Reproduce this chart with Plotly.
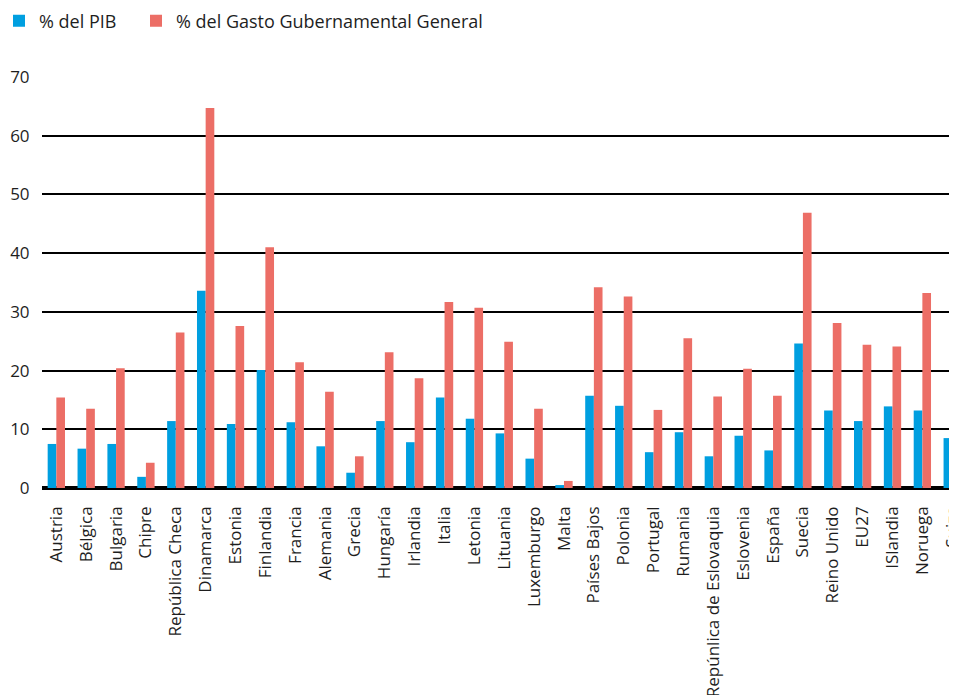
import plotly.graph_objects as go

paises = [
    "Austria", "Bélgica", "Bulgaria", "Chipre", "República Checa", "Dinamarca",
    "Estonia", "Finlandia", "Francia", "Alemania", "Grecia", "Hungaría",
    "Irlandia", "Italia", "Letonia", "Lituania", "Luxemburgo", "Malta",
    "Países Bajos", "Polonia", "Portugal", "Rumania", "Repúnlica de Eslovaquia",
    "Eslovenia", "España", "Suecia", "Reino Unido", "EU27", "ISlandia",
    "Noruega", "Suiza",
]

pct_pib = [
    7.5, 6.7, 7.5, 1.9, 11.4, 33.6, 10.9, 20.1, 11.2, 7.1, 2.6, 11.4,
    7.8, 15.4, 11.8, 9.3, 5.0, 0.5, 15.7, 14.0, 6.1, 9.5, 5.4,
    8.9, 6.4, 24.6, 13.2, 11.4, 13.9, 13.2, 8.5,
]

pct_gasto = [
    15.4, 13.5, 20.4, 4.3, 26.5, 64.7, 27.6, 41.0, 21.4, 16.4, 5.4, 23.1,
    18.7, 31.7, 30.7, 24.9, 13.5, 1.2, 34.2, 32.6, 13.3, 25.5, 15.6,
    20.3, 15.7, 46.9, 28.1, 24.4, 24.1, 33.2, 24.2,
]

AZUL = "#009fe0"
ROJO = "#ec6e66"
FUENTE = "Open Sans"
TEXTO = "#1e1e1e"

# the page body has an 8px margin, so the figure is a bit smaller
W, H = 949, 687
ML, MT, MB = 34, 69, 207
PW, PH = W - ML, H - MT - MB

fig = go.Figure()
fig.add_trace(go.Bar(x=paises, y=pct_pib, name="% del PIB",
                     marker_color=AZUL, marker_line_width=0, legend="legend"))
fig.add_trace(go.Bar(x=paises, y=pct_gasto, name="% del Gasto Gubernamental General",
                     marker_color=ROJO, marker_line_width=0, legend="legend2"))

leyenda = dict(
    orientation="h",
    xref="container", yref="paper",
    y=1 + (MT + 5.5) / PH, xanchor="left", yanchor="top",
    font=dict(family=FUENTE, size=18, color=TEXTO),
    itemclick=False,
    bgcolor="rgba(0,0,0,0)",
)

fig.update_layout(
    template="none",
    width=W,
    height=H,
    margin=dict(l=ML, r=0, t=MT, b=MB, pad=0, autoexpand=False),
    showlegend=True,
    barmode="group",
    bargap=0.42,
    bargroupgap=0,
    paper_bgcolor="white",
    plot_bgcolor="white",
    font=dict(family=FUENTE, size=17, color=TEXTO),
    legend=dict(leyenda, x=0, indentation=-9),
    legend2=dict(leyenda, x=128 / W),
    xaxis=dict(
        range=[-0.48, 30.16],
        tickangle=-90,
        showgrid=False,
        showline=False,
        zeroline=False,
        ticks="",
        ticklabelstandoff=14,
        automargin=False,
        tickfont=dict(family=FUENTE, size=17, color=TEXTO),
    ),
    yaxis=dict(
        range=[0, 70],
        dtick=10,
        showgrid=True,
        gridcolor="#000000",
        gridwidth=1.5,
        zeroline=True,
        zerolinecolor="#000000",
        zerolinewidth=3.5,
        showline=False,
        ticks="outside",
        ticklen=8,
        tickcolor="rgba(0,0,0,0)",
        automargin=False,
        tickfont=dict(family=FUENTE, size=17, color=TEXTO),
    ),
)

fig.write_html("out.html")
